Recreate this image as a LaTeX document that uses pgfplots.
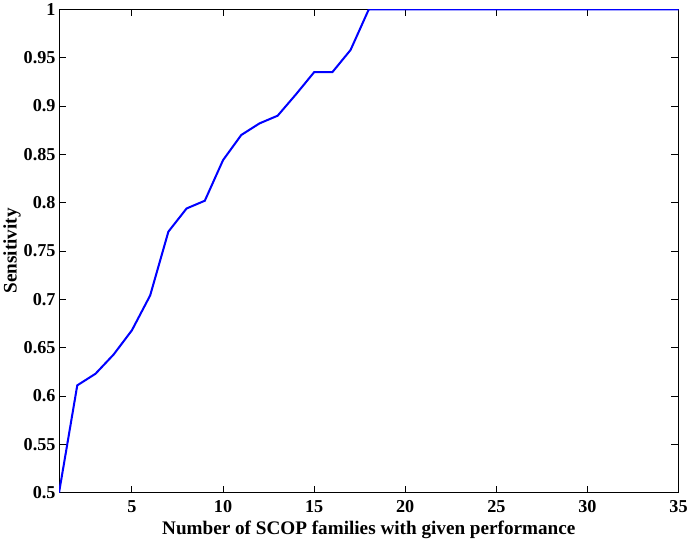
\documentclass[border=0pt]{standalone}
\usepackage{fontspec}
\setmainfont{Liberation Serif}
\usepackage{pgfplots}
\pgfplotsset{compat=1.18}
\begin{document}
\begin{tikzpicture}
\begin{axis}[
  scale only axis,
  width=614pt, height=479pt,
  xmin=1, xmax=35, ymin=0.5, ymax=1,
  xtick={5,10,...,35},
  ytick={0.5,0.55,...,1.0},
  yticklabels={0.5,0.55,0.6,0.65,0.7,0.75,0.8,0.85,0.9,0.95,1},
  tick align=inside,
  tick pos=both,
  major tick length=7pt,
  /pgf/number format/assume math mode=true,
  ticklabel style={font=\fontsize{18}{20}\selectfont\bfseries},
  label style={font=\fontsize{19}{21}\selectfont\bfseries},
  xticklabel style={yshift=-4pt},
  xlabel={Number of SCOP families with given performance},
  ylabel={Sensitivity},
  xlabel style={yshift=-2pt},
  ylabel style={yshift=-4pt},
  axis line style={black, line width=0.9pt},
  every tick/.style={black, line width=0.9pt},
]
\addplot[blue, line width=2pt, mark=none] coordinates {
(1,0.5) (2,0.611) (3,0.623) (4,0.643) (5,0.668) (6,0.704) (7,0.770)
(8,0.794) (9,0.802) (10,0.844) (11,0.870) (12,0.882) (13,0.890)
(14,0.912) (15,0.935) (16,0.935) (17,0.958) (18,1.0) (19,1.0) (20,1.0)
(25,1.0) (30,1.0) (35,1.0)
};
\end{axis}
\end{tikzpicture}
\end{document}
